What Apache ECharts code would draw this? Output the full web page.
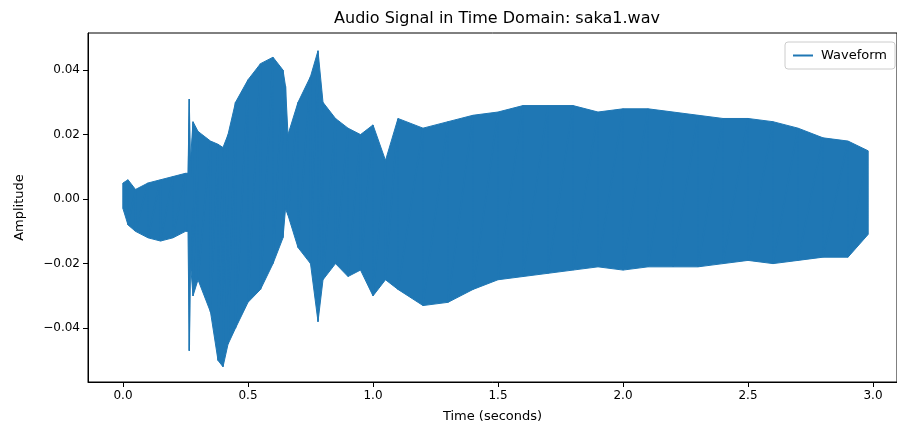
<!DOCTYPE html>
<html><head><meta charset="utf-8">
<script src="https://cdn.jsdelivr.net/npm/echarts@6/dist/echarts.min.js"></script>
<style>body{margin:0}#c{width:897px;height:434px}</style></head>
<body><div id="c"></div>
<script>
// envelope of the waveform (seconds, upper, lower)
const times = [0.0,0.02,0.05,0.1,0.15,0.2,0.25,0.26,0.265,0.27,0.28,0.3,0.35,0.38,0.4,0.42,0.45,0.5,0.55,0.6,0.64,0.65,0.66,0.7,0.75,0.78,0.8,0.85,0.9,0.95,1.0,1.05,1.1,1.2,1.3,1.4,1.5,1.6,1.7,1.8,1.9,2.0,2.1,2.2,2.3,2.4,2.5,2.6,2.7,2.8,2.9,2.98];
const upper = [0.005,0.006,0.003,0.005,0.006,0.007,0.008,0.008,0.031,0.012,0.024,0.021,0.018,0.017,0.016,0.02,0.03,0.037,0.042,0.044,0.04,0.035,0.02,0.03,0.038,0.046,0.03,0.025,0.022,0.02,0.023,0.012,0.025,0.022,0.024,0.026,0.027,0.029,0.029,0.029,0.027,0.028,0.028,0.027,0.026,0.025,0.025,0.024,0.022,0.019,0.018,0.015];
const lower = [-0.003,-0.008,-0.01,-0.012,-0.013,-0.012,-0.01,-0.01,-0.047,-0.02,-0.03,-0.025,-0.035,-0.05,-0.052,-0.045,-0.04,-0.032,-0.028,-0.02,-0.012,-0.003,-0.005,-0.015,-0.02,-0.038,-0.025,-0.02,-0.024,-0.022,-0.03,-0.025,-0.028,-0.033,-0.032,-0.028,-0.025,-0.024,-0.023,-0.022,-0.021,-0.022,-0.021,-0.021,-0.021,-0.02,-0.019,-0.02,-0.019,-0.018,-0.018,-0.011];
const xTicks = [0, 0.5, 1, 1.5, 2, 2.5, 3];
const yTicks = [-0.04, -0.02, 0, 0.02, 0.04];

const color = '#1f77b4';
const up = times.map((t, i) => [t, upper[i]]);
const lo = times.map((t, i) => [t, lower[i]]);
const zig = [];
times.forEach((t, i) => { zig.push([t, upper[i]]); zig.push([t, lower[i]]); });

const font = { fontFamily: 'DejaVu Sans', color: '#000' };
const chart = echarts.init(document.getElementById('c'));
chart.setOption({
  animation: false,
  title: { text: 'Audio Signal in Time Domain: saka1.wav', left: 492, top: 6, textAlign: 'center',
    textStyle: { ...font, fontSize: 16, fontWeight: 'normal' } },
  grid: { left: 88, right: 0, top: 33, bottom: 52, show: true, borderColor: '#000', borderWidth: 1 },
  legend: { right: 2, top: 42, data: ['Waveform'], icon: 'path://M0,0H30V3H0Z', itemWidth: 26, itemHeight: 2,
    borderColor: '#ccc', borderWidth: 1, borderRadius: 3, padding: [7, 8],
    textStyle: { ...font, fontSize: 13 } },
  xAxis: { type: 'value', min: -0.14, max: 3.096, interval: 0.5,
    name: 'Time (seconds)', nameLocation: 'middle', nameGap: 28,
    nameTextStyle: { ...font, fontSize: 13 },
    axisLine: { onZero: false, lineStyle: { color: '#000' } }, axisTick: { show: true, customValues: xTicks },
    axisLabel: { customValues: xTicks, formatter: v => v.toFixed(1), ...font, fontSize: 12 },
    splitLine: { show: false } },
  yAxis: { type: 'value', min: -0.0567, max: 0.0515, interval: 0.02,
    name: 'Amplitude', nameLocation: 'middle', nameGap: 62,
    nameTextStyle: { ...font, fontSize: 13 },
    axisLine: { show: true, onZero: false, lineStyle: { color: '#000' } }, axisTick: { show: true, customValues: yTicks },
    axisLabel: { customValues: yTicks, formatter: v => v.toFixed(2).replace('-', '\u2212'), ...font, fontSize: 12 },
    splitLine: { show: false } },
  series: [
    { name: 'Waveform', type: 'line', data: zig, showSymbol: false, lineStyle: { color, width: 1.5 }, itemStyle: { color } },
    { type: 'line', data: up, showSymbol: false, lineStyle: { color, width: 1 }, areaStyle: { color, opacity: 1, origin: 0 } },
    { type: 'line', data: lo, showSymbol: false, lineStyle: { color, width: 1 }, areaStyle: { color, opacity: 1, origin: 0 } }
  ]
});
</script></body></html>
